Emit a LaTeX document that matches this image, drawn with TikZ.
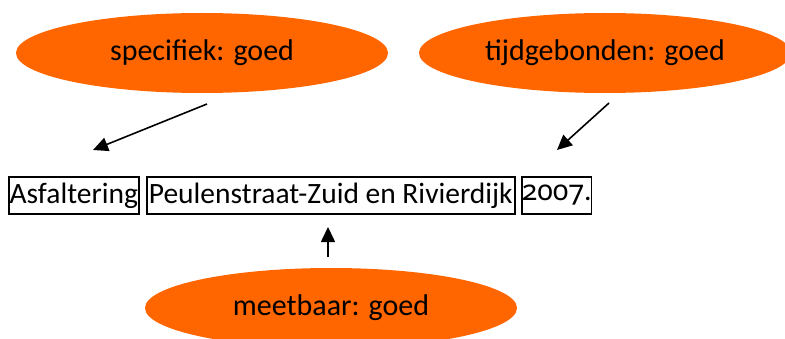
\documentclass[tikz,border=0pt]{standalone}
\usepackage{fontspec}
\setmainfont{Carlito}
\newfontfamily\oldnum[Numbers=OldStyle]{Noto Sans}
\usetikzlibrary{shapes.geometric,arrows.meta}
\definecolor{orng}{RGB}{255,102,0}
\tikzset{
  blob/.style={ellipse,fill=orng,draw=none,minimum width=372pt,minimum height=80pt,inner sep=0pt,font=\fontsize{30}{33}\selectfont},
  wordbox/.style={draw=black,line width=1.6pt,minimum height=37pt,inner sep=0pt,anchor=west,font=\fontsize{29.5}{33}\selectfont},
  pointer/.style={line width=1.6pt,-{Triangle[length=15pt,width=14pt]}}
}
\begin{document}
\begin{tikzpicture}[x=1pt,y=1pt]
\useasboundingbox (0,0) rectangle (785,338);
\clip (0,0) rectangle (785,338);
\node[blob] (spec) at (202,285) {specifiek: goed};
\node[blob] (tijd) at (605,285) {tijdgebonden: goed};
\node[blob] (meet) at (331,30) {meetbaar: goed};
\node[wordbox,minimum width=130pt] (asf) at (8,142.5) {Asfaltering};
\node[wordbox,minimum width=368pt] (peul) at (146,142.5) {Peulenstraat-Zuid en Rivierdijk};
\node[wordbox,minimum width=69pt] (jaar) at (521,142.5) {{\oldnum\fontsize{28.5}{30}\selectfont 2007}.};
\coordinate (s1) at (207,234);
\coordinate (e1) at (93,188);
\coordinate (s2) at (609,235);
\coordinate (e2) at (557,188);
\coordinate (s3) at (328,81);
\coordinate (e3) at (328,111);
\draw[pointer] (s1) -- (e1);
\draw[pointer] (s2) -- (e2);
\draw[pointer] (s3) -- (e3);
\end{tikzpicture}
\end{document}
